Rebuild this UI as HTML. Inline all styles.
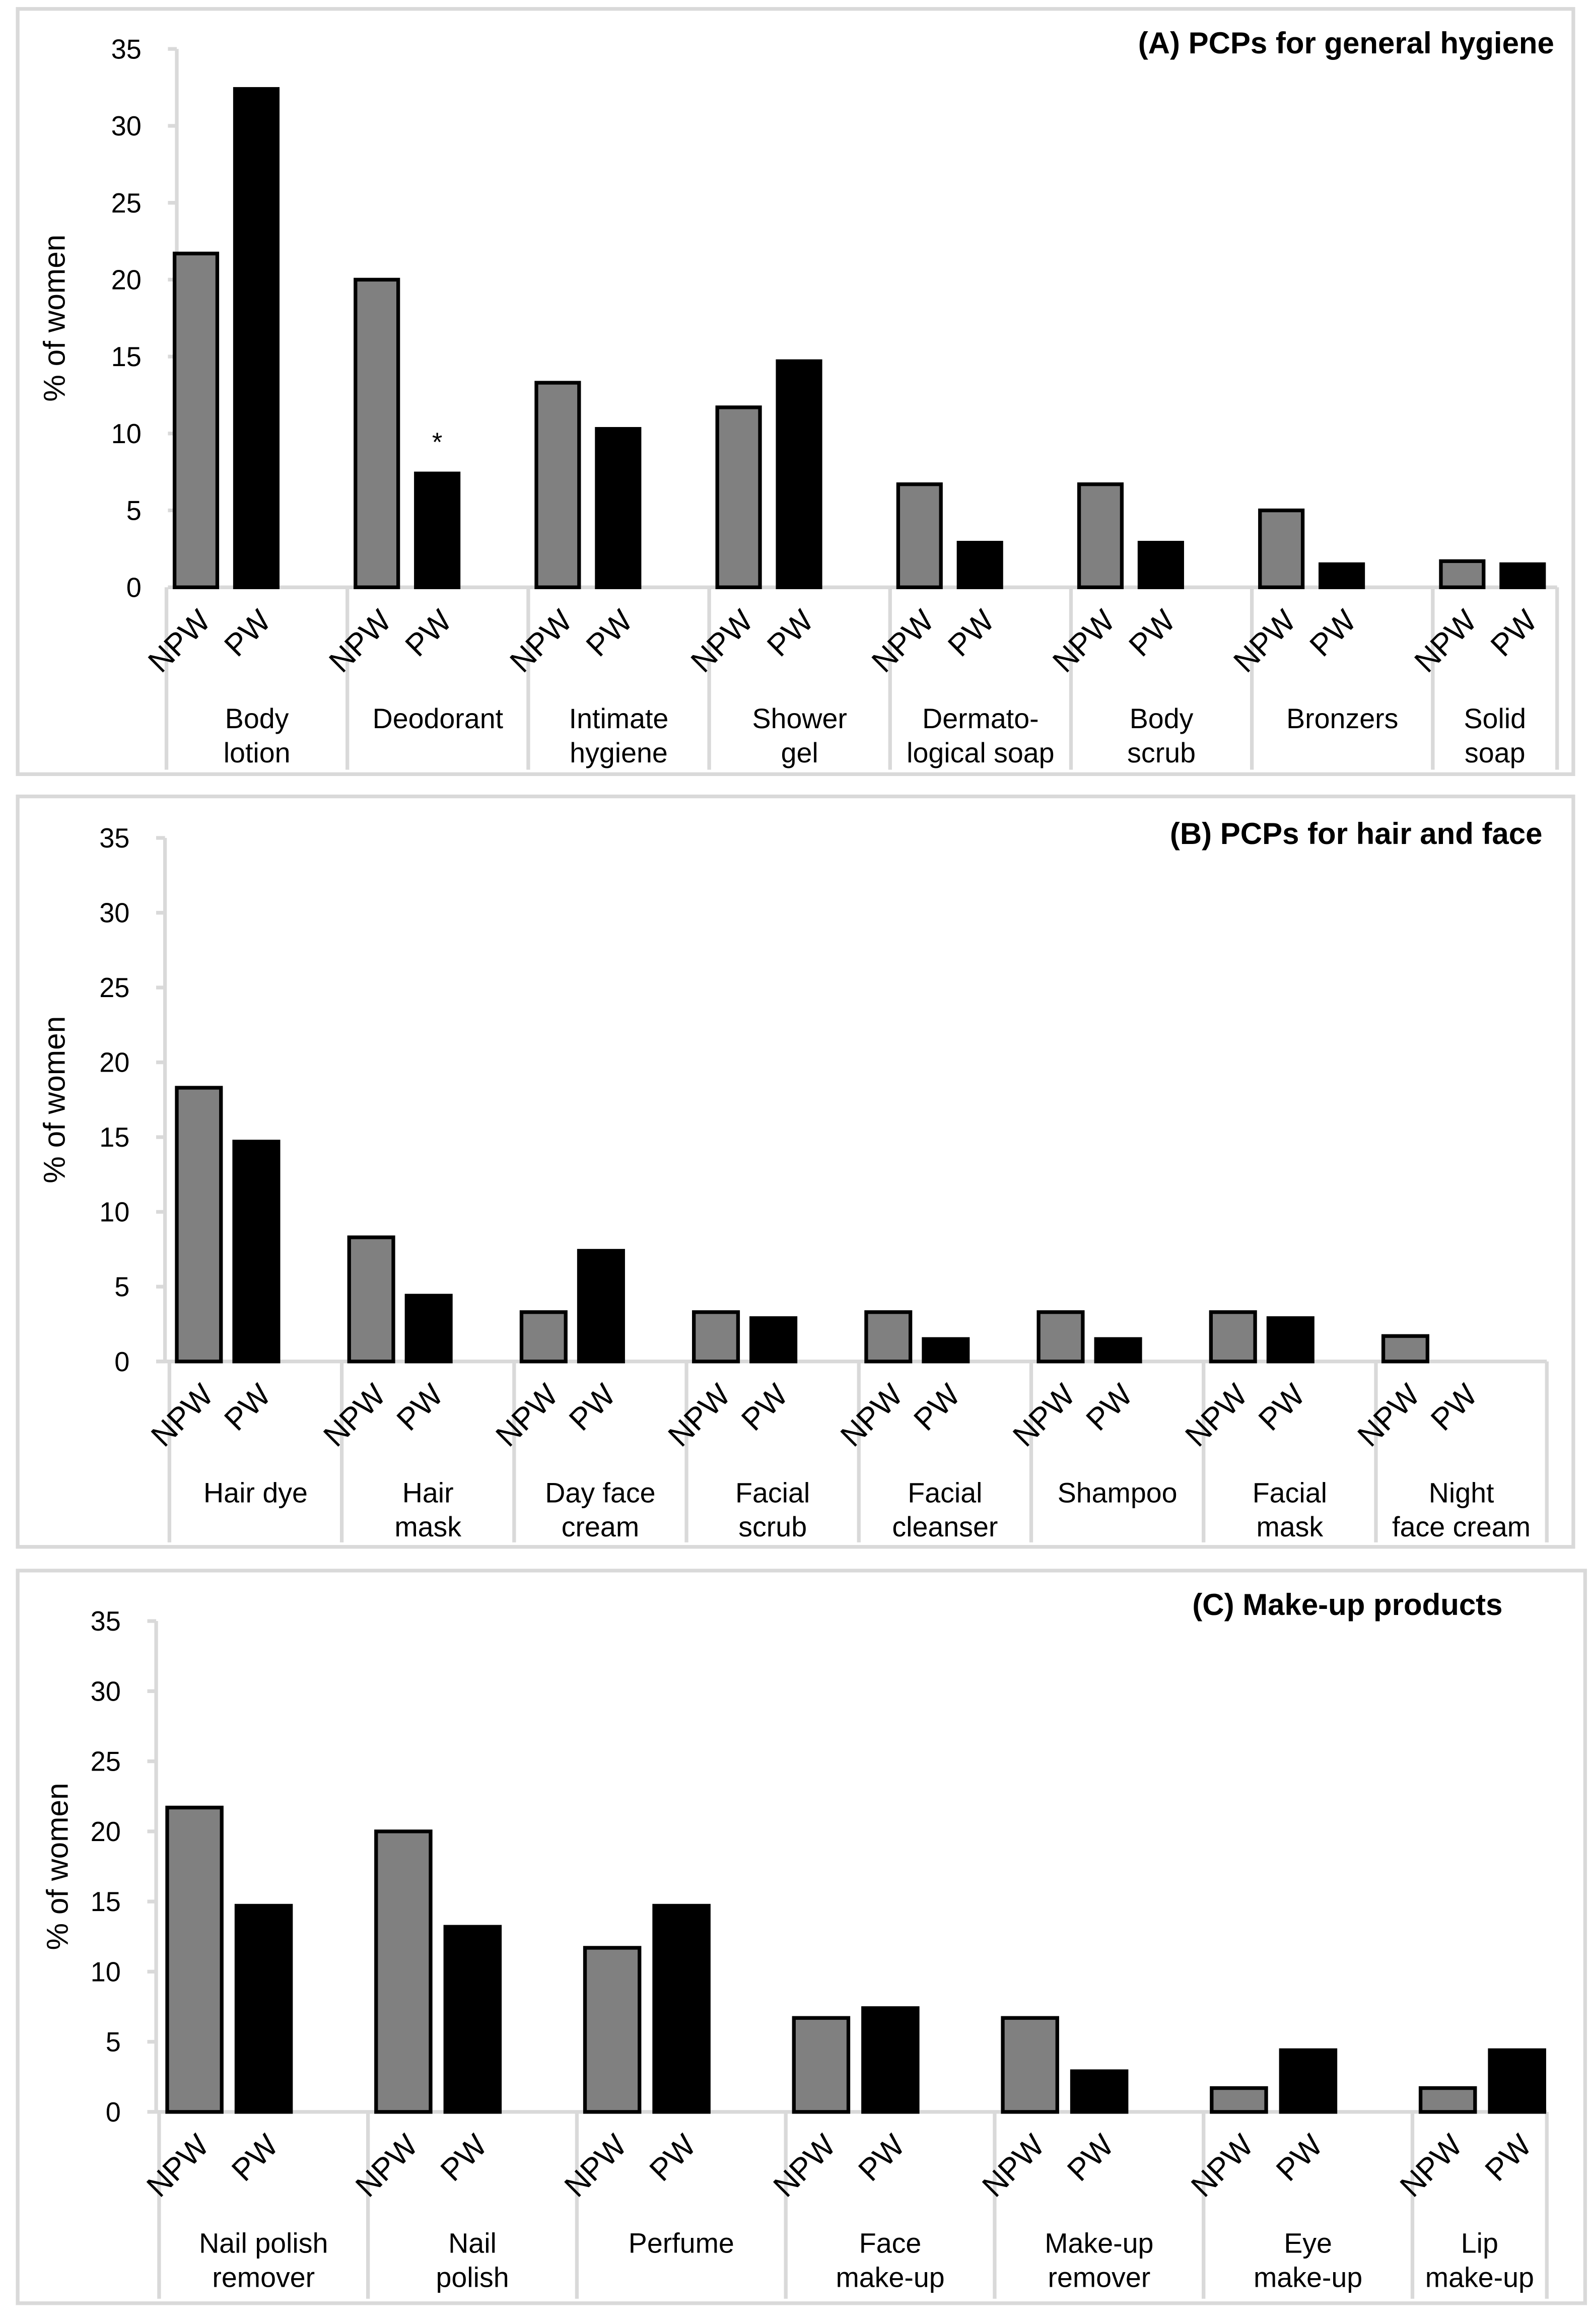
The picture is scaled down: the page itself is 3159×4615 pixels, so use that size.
<!DOCTYPE html>
<html><head><meta charset="utf-8">
<style>
html,body{margin:0;padding:0;background:#fff;}
svg{display:block;font-family:"Liberation Sans",Arial,sans-serif;}
</style></head>
<body>
<svg id="fig" width="3159" height="4615" viewBox="0 0 1080 1567" preserveAspectRatio="none" xmlns="http://www.w3.org/2000/svg"></svg>
<script>
const catsA = [["Body","lotion"],["Deodorant"],["Intimate","hygiene"],["Shower","gel"],["Dermato-","logical soap"],["Body","scrub"],["Bronzers"],["Solid","soap"]];
const npwA = [21.7,20,13.3,11.7,6.7,6.7,5,1.7];
const pwA = [32.4,7.4,10.3,14.7,2.9,2.9,1.5,1.5];
const catsB = [["Hair dye"],["Hair","mask"],["Day face","cream"],["Facial","scrub"],["Facial","cleanser"],["Shampoo"],["Facial","mask"],["Night","face cream"]];
const npwB = [18.3,8.3,3.3,3.3,3.3,3.3,3.3,1.7];
const pwB = [14.7,4.4,7.4,2.9,1.5,1.5,2.9,0];
const catsC = [["Nail polish","remover"],["Nail","polish"],["Perfume"],["Face","make-up"],["Make-up","remover"],["Eye","make-up"],["Lip","make-up"]];
const npwC = [21.7,20,11.7,6.7,6.7,1.7,1.7];
const pwC = [14.7,13.2,14.7,7.4,2.9,4.4,4.4];
const yTicks = [0,5,10,15,20,25,30,35];

const NS="http://www.w3.org/2000/svg";
const svg=document.getElementById('fig');
function mk(tag,attrs,parent,text){const e=document.createElementNS(NS,tag);for(const k in attrs)e.setAttribute(k,attrs[k]);if(text!==undefined)e.textContent=text;(parent||svg).appendChild(e);return e;}

function panel(p){
  const g=mk('g',{});
  
  
  const border=mk('rect',{x:p.bx0,y:p.by0,width:p.bx1-p.bx0,height:p.by1-p.by0,fill:'#fff',stroke:'#d9d9d9','stroke-width':2.5},g);
  
  
  const ys=v=>p.y0-(p.y0-p.y35)*v/35;
  const t=mk('text',{x:p.tx,y:p.ty,'text-anchor':p.tanchor||'end','font-size':20.5,'font-weight':'bold',fill:'#000'},g,p.title);
  
  
  const yt=mk('text',{x:0,y:0,'text-anchor':'middle','font-size':20.5,fill:'#000',transform:`translate(${p.ytx},${(p.y0+p.y35)/2}) rotate(-90)`},g,'% of women');
  
  
  yTicks.forEach(v=>{
    const y=ys(v);
    const tk=mk('line',{x1:p.ax-6,x2:p.ax,y1:y,y2:y,stroke:'#d9d9d9','stroke-width':2.5},g);
    
    
    const tl=mk('text',{x:p.ax-24,y:y+6.5,'text-anchor':'end','font-size':18.5,fill:'#000'},g,String(v));
    
    
  });
  const al=mk('line',{x1:p.ax,x2:p.ax,y1:p.y35,y2:p.y0,stroke:'#d9d9d9','stroke-width':2.5},g);
  
  
  const n=p.cats.length;
  const divs=[];
  for(let i=0;i<n;i++)divs.push(p.dx0+p.step*i);
  divs.push(p.dxEnd);
  const xl=mk('line',{x1:p.ax-6,x2:p.dxEnd,y1:p.y0,y2:p.y0,stroke:'#d9d9d9','stroke-width':2.5},g);
  
  
  divs.forEach(x=>{
    const d=mk('line',{x1:x,x2:x,y1:p.y0,y2:p.by1-3,stroke:'#d9d9d9','stroke-width':2.5},g);
    
    
  });
  for(let i=0;i<n;i++){
    const L=divs[i];
    const cN=L+p.offN, cP=L+p.offP;
    const hN=p.y0-ys(p.npw[i]), hP=p.y0-ys(p.pw[i]);
    const b1=mk('rect',{x:cN-p.bw/2,y:ys(p.npw[i]),width:p.bw,height:hN,fill:'#808080',stroke:'#000','stroke-width':2.5},g);
    
    
    if(p.pw[i]>0){
      const b2=mk('rect',{x:cP-p.bw/2,y:ys(p.pw[i]),width:p.bw,height:hP,fill:'#000',stroke:'#000','stroke-width':2.5},g);
      
      
    }
    const l1=mk('text',{x:0,y:0,'text-anchor':'end','font-size':21,fill:'#000',transform:`translate(${cN+11},${p.y0+24}) rotate(-45)`},g,'NPW');
    
    
    const l2=mk('text',{x:0,y:0,'text-anchor':'end','font-size':21,fill:'#000',transform:`translate(${cP+11},${p.y0+24}) rotate(-45)`},g,'PW');
    
    
    const cx=(divs[i]+divs[i+1])/2;
    p.cats[i].forEach((s,k)=>{
      const c=mk('text',{x:cx,y:p.cy+k*23,'text-anchor':'middle','font-size':19,fill:'#000'},g,s);
      
      
    });
  }
  return {g,ys,divs};
}

const A=panel({name:'panel-a-general-hygiene',title:'(A) PCPs for general hygiene',bx0:12,by0:6,bx1:1068,by1:522,tx:1055,ty:36,ytx:44,
  ax:120,y0:396,y35:33,dx0:113,step:122.8,dxEnd:1057,offN:20,offP:61,bw:29,cats:catsA,npw:npwA,pw:pwA,cy:491});
const star=mk('text',{x:A.divs[1]+61,y:A.ys(pwA[1])-15,'text-anchor':'middle','font-size':18,fill:'#000'},A.g,'*');


panel({name:'panel-b-hair-face',title:'(B) PCPs for hair and face',bx0:12,by0:537,bx1:1068,by1:1043,tx:1047,ty:569,ytx:44,
  ax:112,y0:918,y35:565,dx0:115,step:117,dxEnd:1050,offN:20,offP:59,bw:30,cats:catsB,npw:npwB,pw:pwB,cy:1013});
panel({name:'panel-c-make-up',title:'(C) Make-up products',bx0:12,by0:1059,bx1:1076,by1:1553,tx:1020,ty:1089,ytx:46,
  ax:106,y0:1424,y35:1093,dx0:108,step:141.8,dxEnd:1050,offN:24,offP:71,bw:37,cats:catsC,npw:npwC,pw:pwC,cy:1519});
</script>
</body></html>
